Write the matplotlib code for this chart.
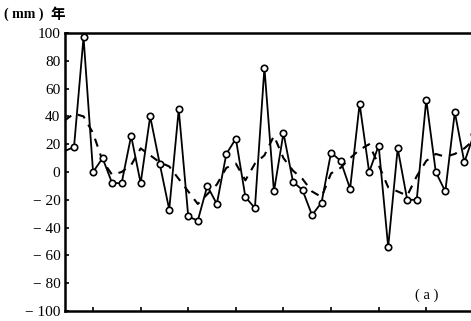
import matplotlib
matplotlib.use("Agg")
import matplotlib.pyplot as plt
import numpy as np

# datos (mm), un valor por año
anios = np.arange(0, 44)
precip = [15, 18, 97, 0, 10, -8, -8, 26, -8, 40,
          6, -27, 45, -32, -35, -10, -23, 13, 24, -18,
          -26, 75, -14, 28, -7, -13, -31, -22, 14, 8,
          -12, 49, 0, 19, -54, 17, -20, -20, 52, 0,
          -14, 43, 7, 27]
suavizado = [37, 42, 40, 28, 8, -2, 0, 5, 17, 12,
             7, 4, -5, -14, -23, -16, -9, 3, 6, -6,
             6, 12, 26, 10, 1, -5, -14, -18, -1, 3,
             10, 16, 20, 5, -11, -14, -17, -3, 8, 13,
             11, 13, 17, 23]
yticks = [100, 80, 60, 40, 20, 0, -20, -40, -60, -80, -100]
ylabels = ["100", "80", "60", "40", "20", "0", "− 20", "− 40", "− 60", "− 80", "− 100"]
xticks = [3, 8, 13, 18, 23, 28, 33, 38]

plt.rcParams['font.family'] = ['Liberation Serif', 'DejaVu Serif']

fig = plt.figure(figsize=(4.71, 3.21), dpi=100)
ax = fig.add_axes([64.5 / 471, 10 / 321, 410 / 471, 278 / 321])

# serie original
ax.plot(anios, precip, color='black', lw=1.3, marker='o', markersize=4.6,
        markerfacecolor='white', markeredgecolor='black', markeredgewidth=1.2,
        markevery=list(range(1, len(anios))), zorder=3)
# serie suavizada
ax.plot(anios, suavizado, color='black', lw=1.5, ls=(0, (4, 3.5)), zorder=2)

ax.set_xlim(0, 410 / 9.52)
ax.set_ylim(-100, 100)
ax.set_yticks(yticks)
ax.set_yticklabels(ylabels, fontsize=11)
ax.set_xticks(xticks)
ax.set_xticklabels([])
ax.tick_params(direction='in', length=3, width=1.2, pad=3)

for lado in ['left', 'bottom', 'top']:
    ax.spines[lado].set_linewidth(1.8)
ax.spines['right'].set_visible(False)

# unidades arriba a la izquierda
fig.text(4 / 471, 1 - 14 / 321, "( mm )", fontsize=10, fontweight='bold', va='center')
fig.text(50 / 471, 1 - 14 / 321, "年", fontsize=10.5, fontweight='bold', va='center',
         family=['Noto Sans CJK SC', 'DejaVu Sans'])
fig.text(415 / 471, 1 - 295 / 321, "( a )", fontsize=10.5, va='center')

fig.savefig("out.png", dpi=100)
